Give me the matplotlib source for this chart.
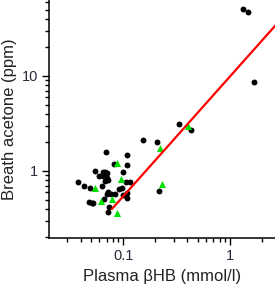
import matplotlib
matplotlib.use("Agg")
import matplotlib.pyplot as plt
from matplotlib.ticker import LogLocator, FixedFormatter, FixedLocator, NullFormatter
import numpy as np

plt.rcParams['font.family'] = ['Liberation Sans', 'DejaVu Sans']

# black circles: plasma bHB (mmol/l) vs breath acetone (ppm)
black_x = [1.314, 1.483, 1.687, 0.336, 0.429, 0.153, 0.207, 0.217, 0.0694, 0.1097,
           0.083, 0.108, 0.0994, 0.0542, 0.0646, 0.0679, 0.0713, 0.0593, 0.065, 0.0701,
           0.0679, 0.0729, 0.0376, 0.0434, 0.0486, 0.0923, 0.1066, 0.116, 0.0972, 0.0725,
           0.0768, 0.0709, 0.0833, 0.0994, 0.1097, 0.1083, 0.066, 0.0484, 0.0508, 0.0528,
           0.074, 0.0716, 0.0641]
black_y = [50.4, 47.2, 8.59, 3.12, 2.72, 2.12, 2.03, 0.616, 1.57, 1.456,
           1.185, 1.157, 0.969, 1.0, 0.969, 0.969, 0.953, 0.892, 0.875, 0.844,
           0.785, 0.804, 0.772, 0.700, 0.658, 0.647, 0.772, 0.772, 0.658, 0.597,
           0.575, 0.568, 0.566, 0.559, 0.582, 0.522, 0.510, 0.475, 0.455, 0.460,
           0.421, 0.373, 0.695]

# green triangles
green_x = [0.403, 0.223, 0.0869, 0.0957, 0.230, 0.0548, 0.0784, 0.0619, 0.0885]
green_y = [2.98, 1.75, 1.20, 0.830, 0.724, 0.654, 0.511, 0.487, 0.359]

# power-law fit: acetone = fit_a * bHB ** fit_b
fit_a = 9.9
fit_b = 1.264
fit_xmin = 0.079
fit_xmax = 2.7

fig = plt.figure(figsize=(2.75, 2.87), dpi=100)
ax = fig.add_axes([49 / 275, 1 - 238 / 287, 1 - 49 / 275, 238 / 287])

ax.scatter(black_x, black_y, s=18, color="black", linewidths=0, zorder=3)
ax.scatter(green_x, green_y, s=26, marker="^", color="#00e000", linewidths=0, zorder=3)

fx = np.geomspace(fit_xmin, fit_xmax, 50)
ax.plot(fx, fit_a * fx ** fit_b, color="#ff0000", lw=1.6, zorder=4)

ax.set_xscale("log")
ax.set_yscale("log")
ax.set_xlim(0.0203, 2.63)
ax.set_ylim(0.197, 63)

ax.xaxis.set_major_locator(FixedLocator([0.1, 1]))
ax.xaxis.set_major_formatter(FixedFormatter(["0.1", "1"]))
ax.xaxis.set_minor_locator(LogLocator(base=10, subs=np.arange(2, 10)))
ax.xaxis.set_minor_formatter(NullFormatter())
ax.yaxis.set_major_locator(FixedLocator([1, 10]))
ax.yaxis.set_major_formatter(FixedFormatter(["1", "10"]))
ax.yaxis.set_minor_locator(LogLocator(base=10, subs=np.arange(2, 10)))
ax.yaxis.set_minor_formatter(NullFormatter())

for s in ["top", "right"]:
    ax.spines[s].set_visible(False)
for s in ["left", "bottom"]:
    ax.spines[s].set_linewidth(1.1)

tick_col = "#2a2a3a"
ax.tick_params(which="major", length=5, width=1, direction="out", labelsize=10.5,
               labelcolor=tick_col, pad=3)
ax.tick_params(which="minor", length=3, width=1, direction="out")

ax.set_xlabel("Plasma \u03b2HB (mmol/l)", fontsize=12, color="#222222", labelpad=4)
ax.set_ylabel("Breath acetone (ppm)", fontsize=12, color="#222222", labelpad=3)

fig.savefig("out.png", dpi=100)
